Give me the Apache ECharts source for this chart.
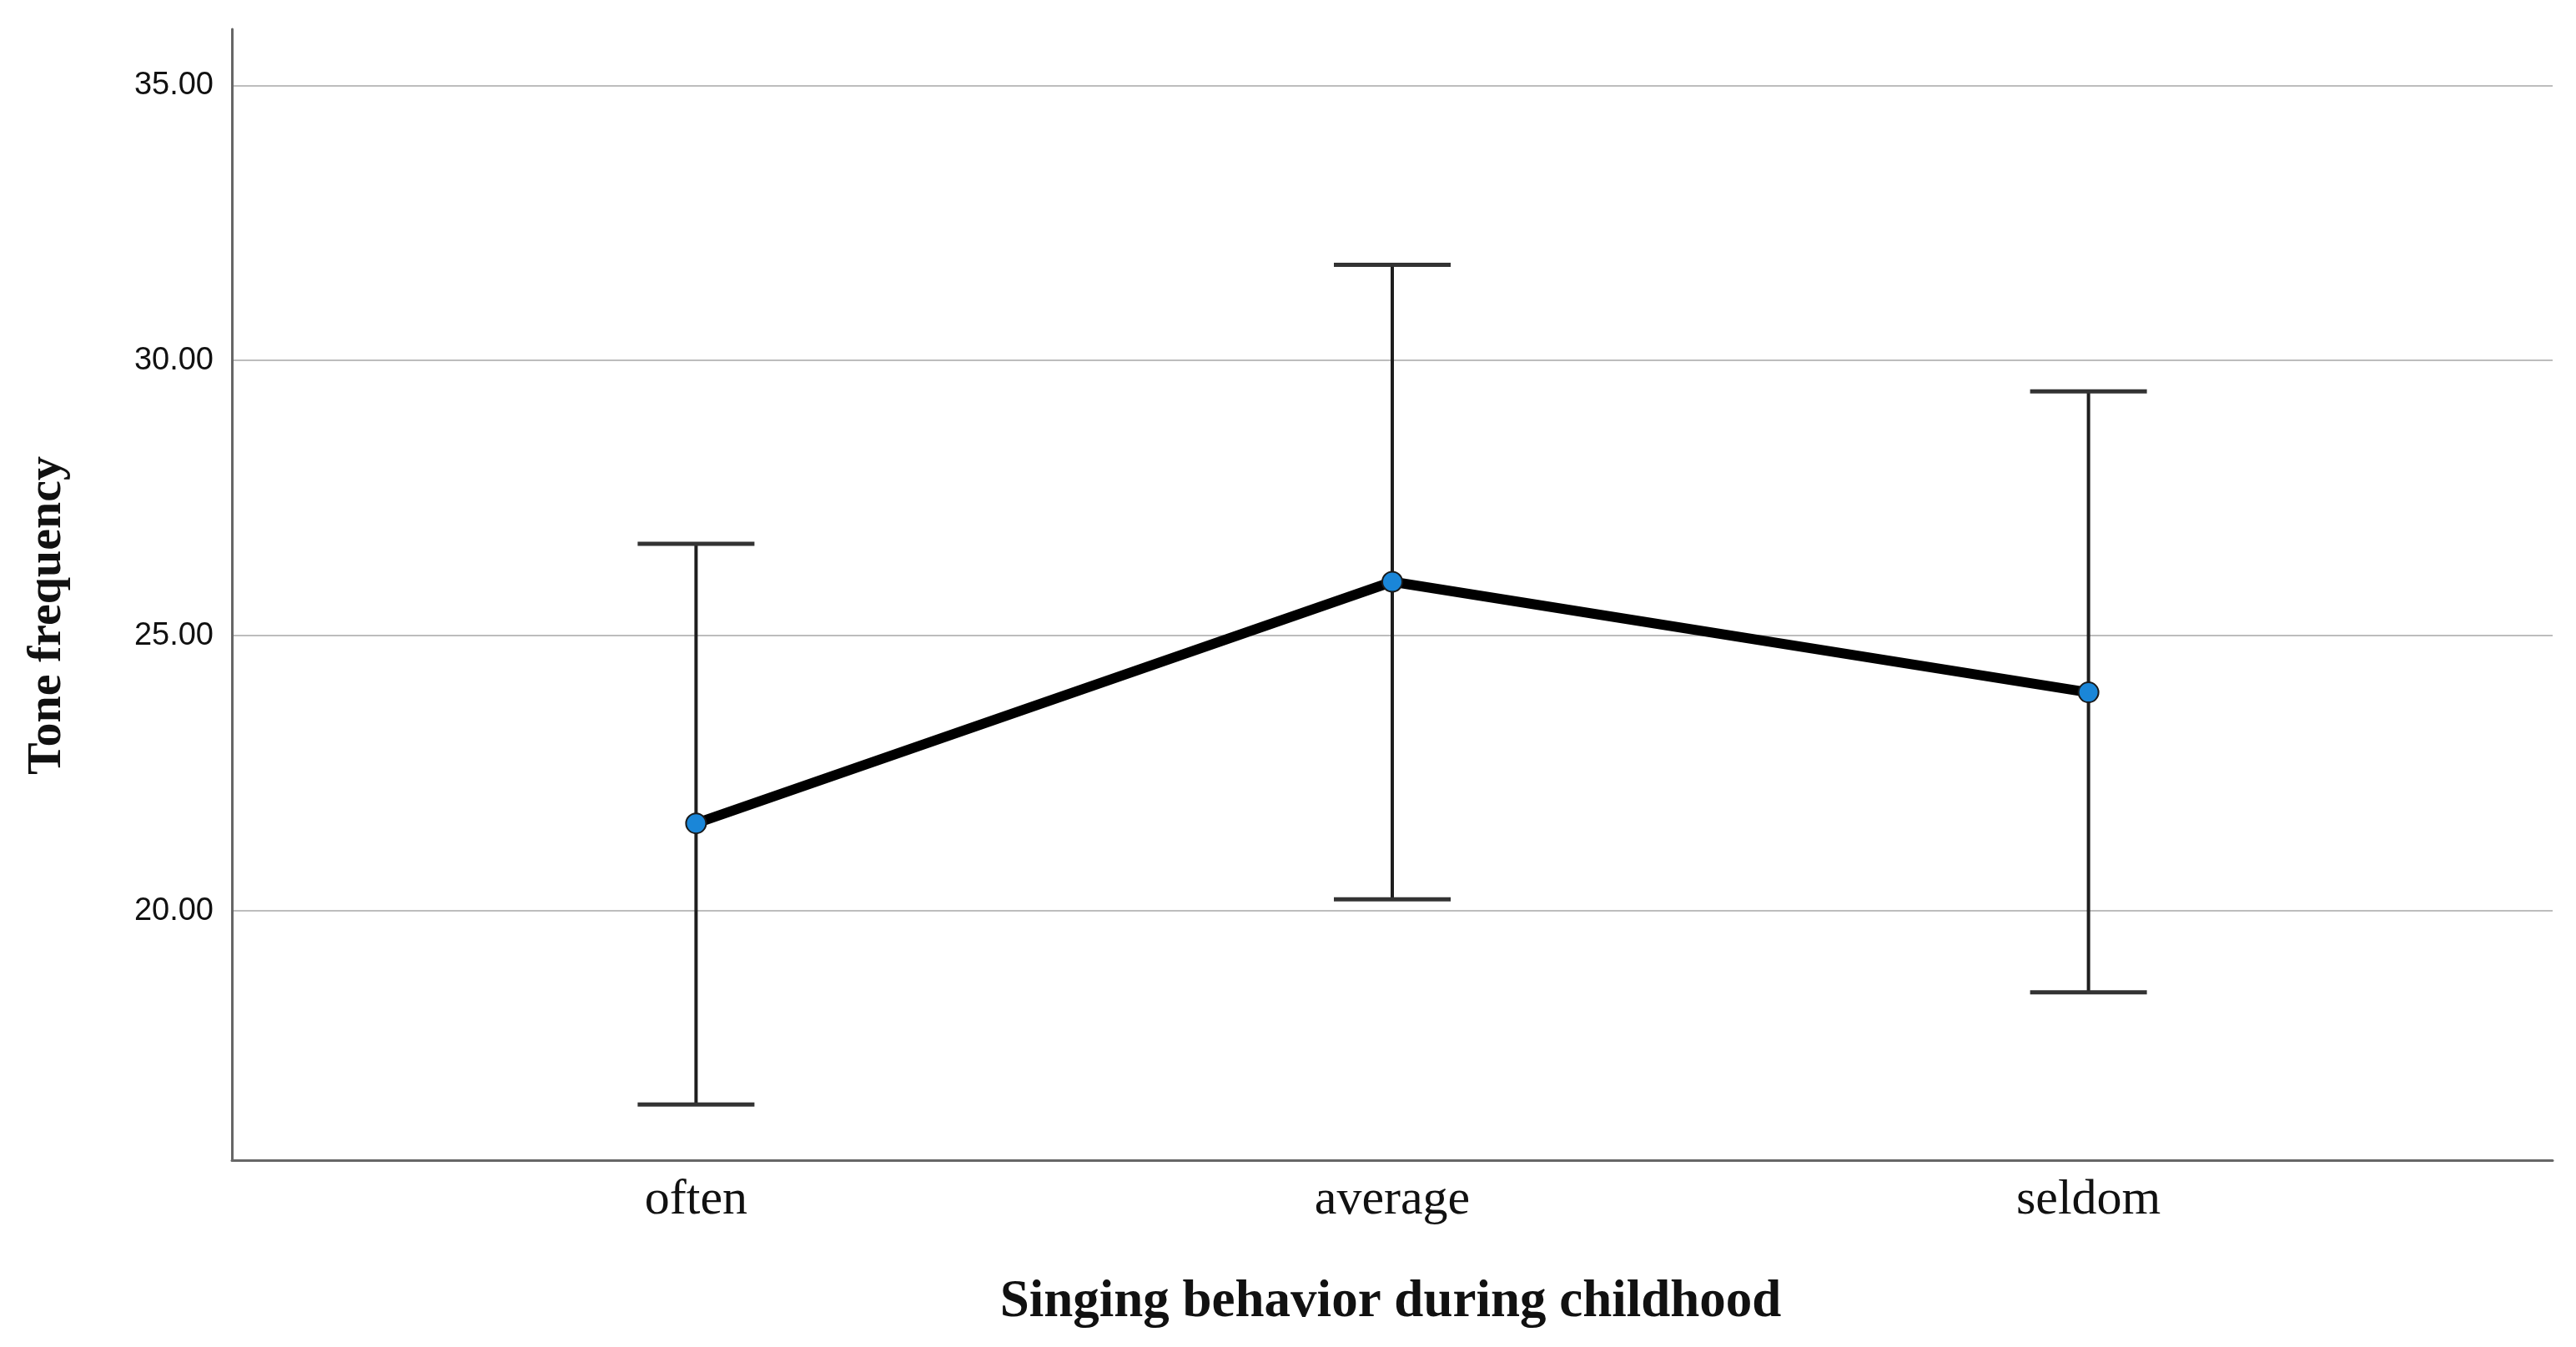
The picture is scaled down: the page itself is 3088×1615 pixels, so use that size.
<!DOCTYPE html>
<html>
<head>
<meta charset="utf-8">
<script src="https://cdn.jsdelivr.net/npm/echarts@6/dist/echarts.min.js"></script>
<style>
html,body{margin:0;padding:0;background:#fff;}
#chart{width:3088px;height:1615px;}
</style>
</head>
<body>
<div id="chart"></div>
<script>
// ---- data ----
var categories = ['often', 'average', 'seldom'];
var means = [21.59, 25.98, 23.97];
var upper = [26.67, 31.74, 29.44];
var lower = [16.48, 20.21, 18.52];
var yTicks = [20, 25, 30, 35];
var xName = 'Singing behavior during childhood';
var yName = 'Tone frequency';

var chart = echarts.init(document.getElementById('chart'));

var lineData = means.map(function (m, i) { return [i, m]; });
var barData = categories.map(function (c, i) { return [i, lower[i], upper[i]]; });

var option = {
  backgroundColor: '#ffffff',
  animation: false,
  grid: { left: 278, right: 28, top: 35, bottom: 224, containLabel: false },
  xAxis: {
    type: 'value',
    min: -2 / 3,
    max: 8 / 3,
    axisLine: { show: true, onZero: false, lineStyle: { color: '#666666', width: 3 } },
    axisTick: { show: false, customValues: [0, 1, 2] },
    splitLine: { show: false },
    axisLabel: {
      customValues: [0, 1, 2],
      formatter: function (v) { return categories[Math.round(v)]; },
      fontFamily: 'Liberation Serif',
      fontSize: 60,
      color: '#111',
      margin: 18
    }
  },
  yAxis: {
    type: 'value',
    min: 15.47,
    max: 36.02,
    axisLine: { show: true, onZero: false, lineStyle: { color: '#666666', width: 3 } },
    axisTick: { show: false, customValues: yTicks },
    splitLine: { show: true, lineStyle: { color: '#bdbdbd', width: 2 } },
    axisLabel: {
      customValues: yTicks,
      formatter: function (v) { return v.toFixed(2); },
      fontFamily: 'Liberation Sans',
      fontSize: 38,
      color: '#111',
      margin: 22,
      padding: [12, 0, 0, 0]
    }
  },
  graphic: [
    {
      type: 'text',
      x: 1667, y: 1562,
      style: {
        text: xName,
        font: 'bold 63px "Liberation Serif"',
        fill: '#111',
        textAlign: 'center',
        textVerticalAlign: 'middle'
      }
    },
    {
      type: 'text',
      x: 57, y: 738,
      rotation: Math.PI / 2,
      style: {
        text: yName,
        font: 'bold 58px "Liberation Serif"',
        fill: '#111',
        textAlign: 'center',
        textVerticalAlign: 'middle'
      }
    }
  ],
  series: [
    {
      type: 'custom',
      z: 2,
      data: barData,
      renderItem: function (params, api) {
        var x = api.value(0);
        var lo = api.coord([x, api.value(1)]);
        var hi = api.coord([x, api.value(2)]);
        var hw = 70;
        return {
          type: 'group',
          children: [
            { type: 'line', shape: { x1: hi[0], y1: hi[1], x2: lo[0], y2: lo[1] },
              style: { stroke: '#1e1e1e', lineWidth: 4 } },
            { type: 'line', shape: { x1: hi[0] - hw, y1: hi[1], x2: hi[0] + hw, y2: hi[1] },
              style: { stroke: '#333333', lineWidth: 5 } },
            { type: 'line', shape: { x1: lo[0] - hw, y1: lo[1], x2: lo[0] + hw, y2: lo[1] },
              style: { stroke: '#333333', lineWidth: 5 } }
          ]
        };
      }
    },
    {
      type: 'line',
      z: 3,
      data: lineData,
      symbol: 'circle',
      symbolSize: 24,
      lineStyle: { color: '#000000', width: 12 },
      itemStyle: { color: '#1a86d8', borderColor: '#1a1a1a', borderWidth: 2 }
    }
  ]
};
chart.setOption(option);
</script>
</body>
</html>
